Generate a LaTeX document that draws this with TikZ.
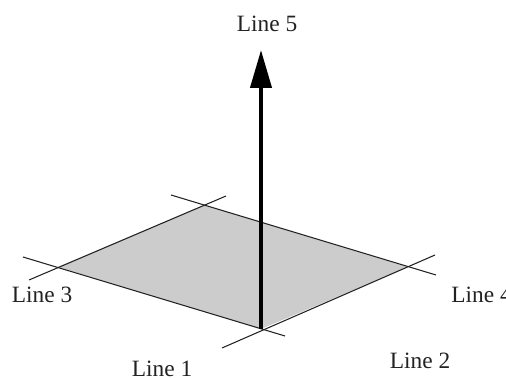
\documentclass[tikz,border=0pt]{standalone}
\usepackage{fontspec}
\setmainfont{Liberation Serif}
\usetikzlibrary{arrows.meta}
\definecolor{ink}{HTML}{222222}
\definecolor{plane}{HTML}{CCCCCC}

\begin{document}
\begin{tikzpicture}[
    x=1cm,
    y=1cm,
    font=\fontsize{13.3}{15}\selectfont,
    text=ink,
    thinline/.style={draw=ink, line width=0.6pt},
    normal/.style={-{Triangle[length=7.6mm,width=4.2mm]}, draw=black, line width=2.3pt},
    linelabel/.style={inner sep=0pt}
]
\useasboundingbox (0,0) rectangle (10.12,7.56);

% Corners of the plane and free ends of the lines.
\coordinate (top) at (4.08,3.46);
\coordinate (left) at (1.16,2.22);
\coordinate (right) at (8.16,2.22);
\coordinate (bottom) at (5.22,0.98);
\coordinate (a1) at (0.46,2.42);
\coordinate (a2) at (5.70,0.84);
\coordinate (b1) at (0.58,1.96);
\coordinate (b2) at (4.52,3.64);
\coordinate (c1) at (3.42,3.66);
\coordinate (c2) at (8.72,2.06);
\coordinate (d1) at (4.44,0.60);
\coordinate (d2) at (8.70,2.46);
\coordinate (tail) at (5.22,0.98);
\coordinate (tip) at (5.22,6.56);

\fill[plane] (top) -- (right) -- (bottom) -- (left) -- cycle;

% The four lines that cross at the corners.
\draw[thinline] (a1) -- (a2);
\draw[thinline] (b1) -- (b2);
\draw[thinline] (c1) -- (c2);
\draw[thinline] (d1) -- (d2);

\draw[normal] (tail) -- (tip);

\node[linelabel] (line5) at (5.34,7.08) {Line 5};
\node[linelabel] (line3) at (0.84,1.66) {Line 3};
\node[linelabel, anchor=west] (line4) at (9.02,1.66) {Line 4};
\node[linelabel] (line2) at (8.40,0.34) {Line 2};
\node[linelabel] (line1) at (3.24,0.19) {Line 1};

\end{tikzpicture}
\end{document}
